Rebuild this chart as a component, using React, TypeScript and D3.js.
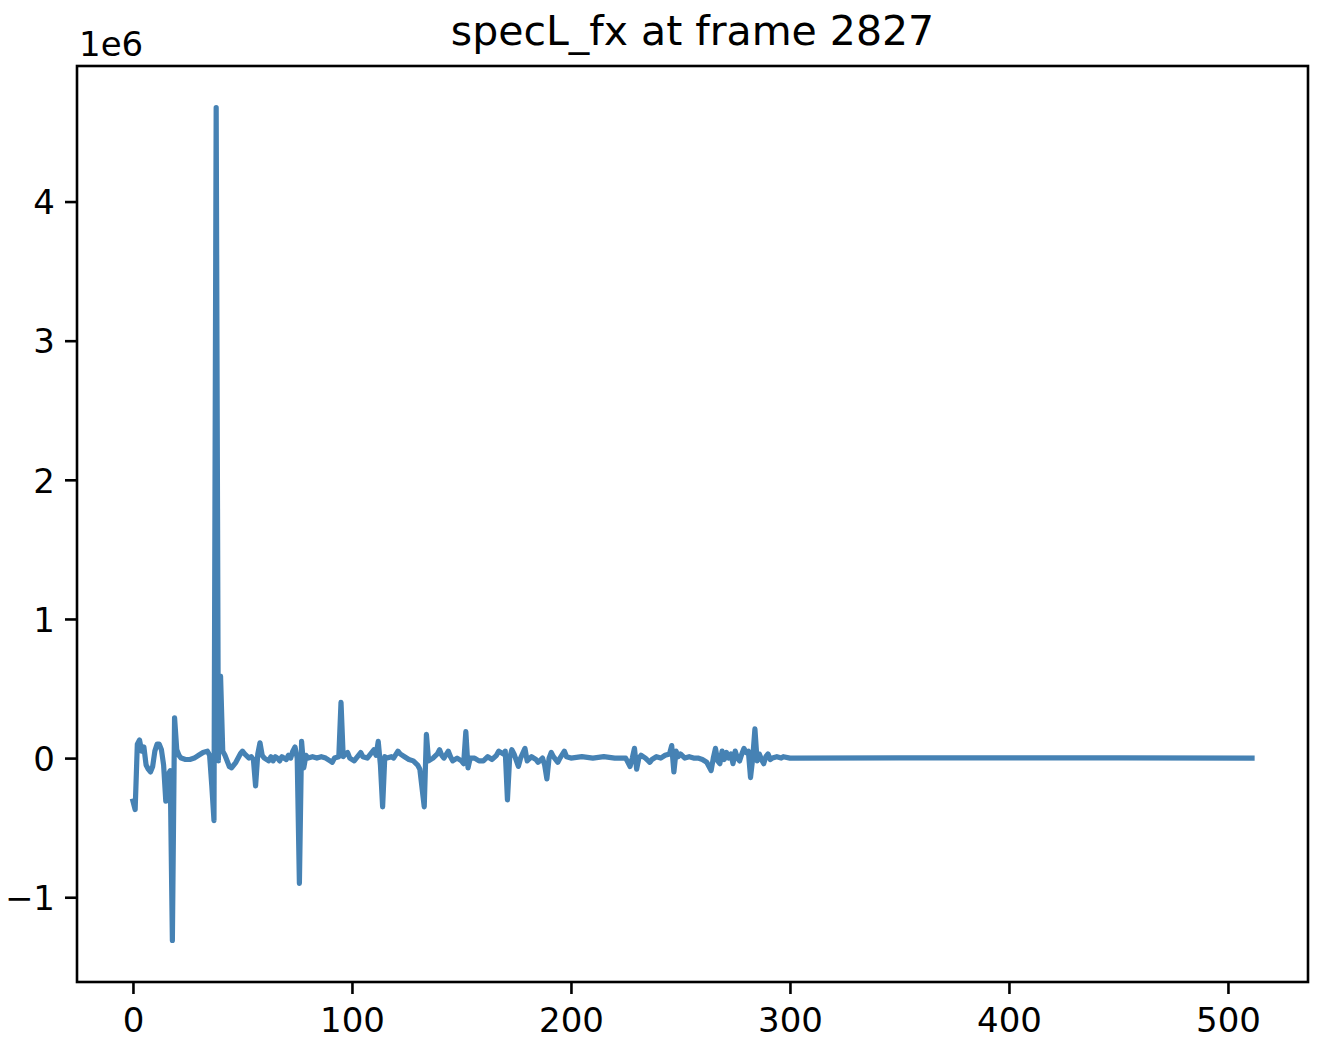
import React, { useEffect, useRef } from 'react';
import * as d3 from 'd3';

// bin index of the spectrum
const bins: number[] = [
  0, 1, 2, 3, 4, 5, 6, 7, 8, 9, 10, 11, 12, 13, 14, 15, 16, 17, 18, 19, 20, 21, 22, 24, 26, 28, 30, 32, 34, 35,
  36, 37, 38, 39, 40, 41, 42, 44, 45, 47, 49, 50, 51, 53, 54, 55, 56, 57, 58, 59, 60, 62, 63, 64, 65, 66, 67, 68, 70, 71,
  72, 73, 74, 75, 76, 77, 78, 79, 80, 82, 84, 86, 88, 90, 91, 92, 94, 95, 96, 97, 98, 99, 101, 102, 104, 105, 107, 108, 110, 111,
  112, 113, 114, 115, 116, 118, 119, 121, 122, 124, 126, 128, 130, 131, 133, 134, 135, 137, 139, 140, 141, 142, 144, 145, 146, 148, 150, 151, 152, 153,
  154, 156, 158, 160, 162, 164, 166, 167, 169, 170, 171, 172, 173, 174, 176, 177, 179, 180, 182, 184, 185, 187, 188, 189, 190, 191, 192, 194, 195, 197,
  198, 200, 205, 210, 215, 220, 225, 227, 228, 229, 230, 231, 232, 234, 236, 237, 239, 241, 243, 245, 246, 247, 248, 249, 250, 252, 254, 256, 258, 260,
  262, 264, 265, 266, 267, 268, 269, 270, 271, 272, 273, 274, 275, 276, 277, 278, 279, 280, 281, 282, 283, 284, 285, 286, 287, 288, 289, 290, 291, 292,
  294, 296, 297, 300, 350, 400, 450, 511,
];

// specL_fx value at each bin, in units of 1e6
const values: number[] = [
  -0.31, -0.37, 0.1, 0.13, 0.05, 0.08, -0.05, -0.08, -0.1, -0.06, 0.05, 0.1, 0.1, 0.06, -0.05, -0.31, -0.12, -0.09, -1.31, 0.29, 0.06, 0.02, 0.0, -0.01, -0.01, 0.0, 0.02, 0.04, 0.05, 0.02,
  -0.2, -0.45, 4.675, -0.02, 0.59, 0.05, 0.02, -0.06, -0.07, -0.03, 0.03, 0.05, 0.03, 0.0, 0.01, -0.01, -0.2, 0.03, 0.11, 0.02, 0.0, -0.02, 0.01, -0.02, 0.01, 0.0, -0.02, 0.01, -0.01, 0.02,
  0.0, 0.05, 0.08, 0.0, -0.9, 0.12, -0.07, 0.02, 0.0, 0.01, 0.0, 0.01, 0.0, -0.02, -0.03, 0.0, 0.01, 0.4, 0.01, 0.03, 0.04, 0.0, -0.02, 0.0, 0.04, 0.01, 0.0, 0.02, 0.06, 0.02,
  0.12, -0.05, -0.35, 0.01, 0.0, 0.01, 0.0, 0.05, 0.03, 0.01, -0.01, -0.02, -0.05, -0.08, -0.35, 0.17, -0.02, 0.0, 0.03, 0.06, 0.02, 0.0, 0.05, 0.01, -0.02, 0.0, -0.02, -0.04, 0.19, -0.07,
  0.0, 0.0, -0.02, -0.02, 0.01, -0.01, 0.02, 0.05, 0.03, 0.05, -0.3, 0.0, 0.06, 0.03, -0.06, 0.0, 0.07, -0.02, 0.01, -0.01, -0.03, 0.0, -0.05, -0.15, 0.0, 0.04, 0.01, -0.03, 0.0, 0.05,
  0.01, 0.0, 0.01, 0.0, 0.01, 0.0, 0.0, -0.06, 0.0, 0.07, -0.08, 0.0, 0.02, 0.0, -0.03, -0.01, 0.01, 0.0, 0.02, 0.03, 0.09, -0.1, 0.05, 0.01, 0.03, 0.0, 0.01, 0.0, 0.0, -0.01,
  -0.03, -0.09, 0.0, 0.07, -0.02, -0.04, 0.05, -0.01, 0.04, 0.0, 0.03, -0.04, 0.05, 0.0, -0.02, 0.03, 0.07, 0.04, 0.05, -0.14, 0.0, 0.21, -0.02, 0.03, -0.01, -0.04, 0.01, 0.03, -0.01, 0.0,
  0.01, 0.0, 0.01, 0.0, 0.002, 0.001, 0.001, 0.0,
];

const xTicks = [0, 100, 200, 300, 400, 500];
const yTicks = [-1, 0, 1, 2, 3, 4];
const title = 'specL_fx at frame 2827';
const offsetLabel = '1e6';

export default function App() {
  const svgRef = useRef<SVGSVGElement>(null);
  const width = 1322;
  const height = 1048;

  useEffect(() => {
    const svg = d3.select(svgRef.current);
    svg.selectAll('*').remove();

    const left = 77;
    const top = 66;
    const right = 1308;
    const bottom = 982;
    const font = 'DejaVu Sans, sans-serif';

    // matplotlib style 5% margins on the data extent
    const xMin = d3.min(bins) as number;
    const xMax = d3.max(bins) as number;
    const yMin = d3.min(values) as number;
    const yMax = d3.max(values) as number;
    const xm = (xMax - xMin) * 0.05;
    const ym = (yMax - yMin) * 0.05;

    const x = d3.scaleLinear().domain([xMin - xm, xMax + xm]).range([left, right]);
    const y = d3.scaleLinear().domain([yMin - ym, yMax + ym]).range([bottom, top]);

    svg.append('rect')
      .attr('width', width)
      .attr('height', height)
      .attr('fill', 'white');

    const pts = bins.map((b, i) => [b, values[i]] as [number, number]);
    const line = d3.line<[number, number]>()
      .x(d => x(d[0]))
      .y(d => y(d[1]));

    svg.append('path')
      .attr('d', line(pts) || '')
      .attr('fill', 'none')
      .attr('stroke', '#4682b4')
      .attr('stroke-width', 5.2)
      .attr('stroke-linejoin', 'round')
      .attr('stroke-linecap', 'square');

    // axes
    const xAxis = d3.axisBottom(x)
      .tickValues(xTicks)
      .tickSize(12)
      .tickPadding(14)
      .tickFormat(d => String(d));
    const gx = svg.append('g')
      .attr('transform', `translate(0,${bottom})`)
      .call(xAxis);

    const yAxis = d3.axisLeft(y)
      .tickValues(yTicks)
      .tickSize(12)
      .tickPadding(10)
      .tickFormat(d => (Number(d) < 0 ? '\u2212' + Math.abs(Number(d)) : String(d)));
    const gy = svg.append('g')
      .attr('transform', `translate(${left},0)`)
      .call(yAxis);

    [gx, gy].forEach(g => {
      g.select('.domain').remove();
      g.selectAll('.tick line')
        .attr('stroke', '#000')
        .attr('stroke-width', 2.6);
      g.selectAll('.tick text')
        .attr('fill', '#000')
        .style('font-family', font)
        .style('font-size', '34px');
    });
    gy.selectAll('.tick text').attr('dy', '0.36em');

    // frame
    svg.append('rect')
      .attr('x', left)
      .attr('y', top)
      .attr('width', right - left)
      .attr('height', bottom - top)
      .attr('fill', 'none')
      .attr('stroke', '#000')
      .attr('stroke-width', 2.6);

    svg.append('text')
      .attr('x', (left + right) / 2)
      .attr('y', 45)
      .attr('text-anchor', 'middle')
      .style('font-family', font)
      .style('font-size', '41px')
      .attr('fill', '#000')
      .text(title);

    svg.append('text')
      .attr('x', left + 2)
      .attr('y', 56)
      .style('font-family', font)
      .style('font-size', '34px')
      .attr('fill', '#000')
      .text(offsetLabel);
  }, []);

  return (
    <div style={{ position: 'absolute', left: 0, top: 0 }}>
      <svg ref={svgRef} width={width} height={height} style={{ display: 'block' }}></svg>
    </div>
  );
}
